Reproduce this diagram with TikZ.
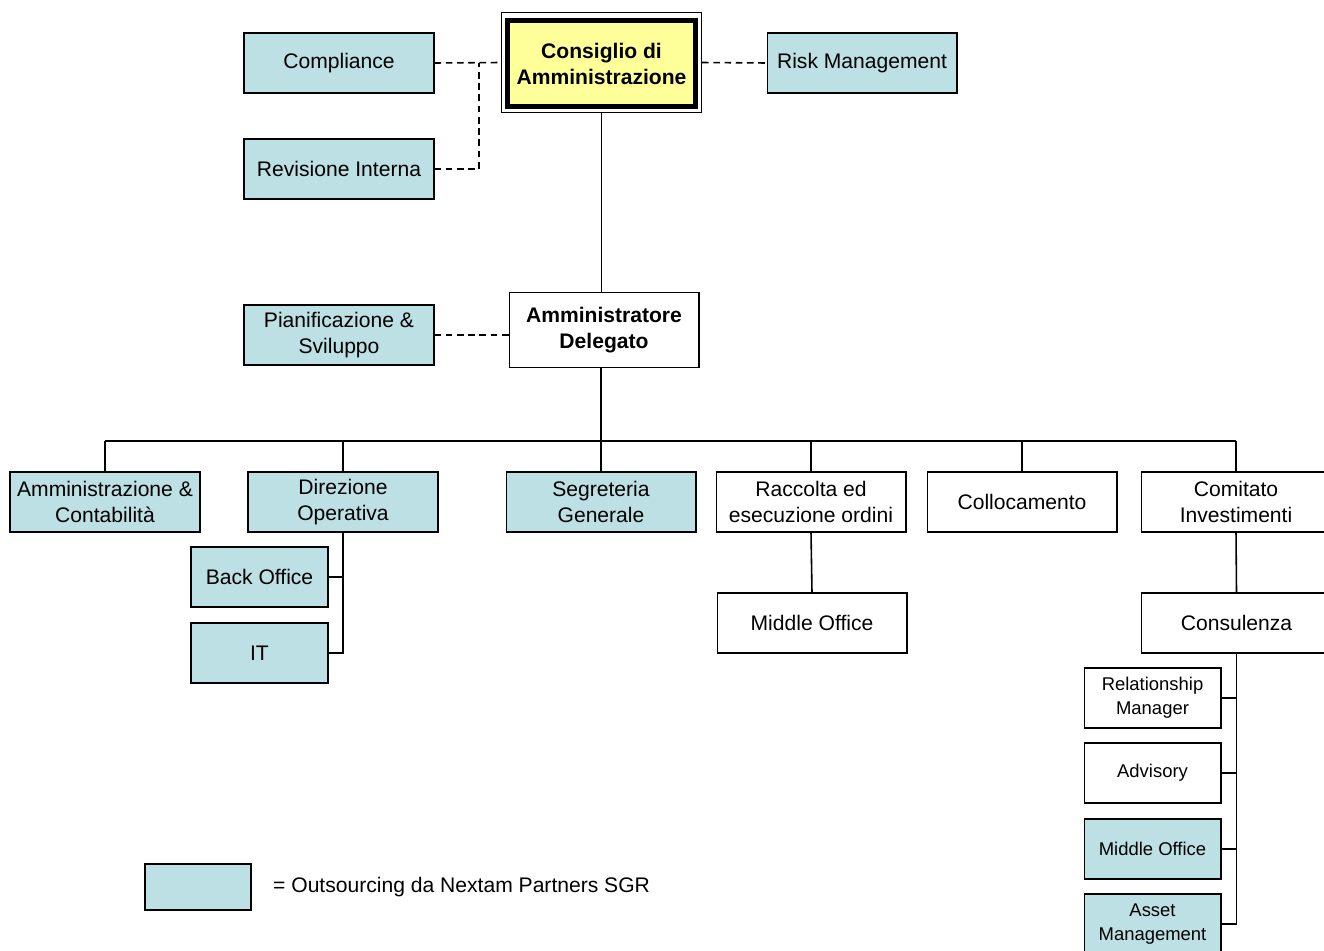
\documentclass[tikz,border=0pt]{standalone}
\usepackage{fontspec}
\setmainfont{Liberation Sans}
\usetikzlibrary{positioning}

\definecolor{outsrc}{RGB}{189,224,228}
\definecolor{boardyellow}{RGB}{255,255,153}

\tikzset{
  unit/.style={draw, line width=0.6pt, minimum width=3.8cm, minimum height=1.2cm,
    align=center, inner sep=1pt, font=\fontsize{12}{14.8}\selectfont},
  outunit/.style={unit, fill=outsrc},
  subunit/.style={unit, minimum width=2.74cm},
  smallunit/.style={subunit, font=\fontsize{10.5}{13.7}\selectfont},
  link/.style={line width=0.9pt},
  staff/.style={line width=0.9pt, dash pattern=on 3.8pt off 2.6pt},
}

\begin{document}
\begin{tikzpicture}[x=0.02cm, y=-0.02cm]
    \useasboundingbox (0,0) rectangle (1324,950);

    % board and staff functions
    \node[draw, line width=0.6pt, minimum width=4cm, minimum height=2cm] (cdaframe) at (601.5,62.5) {};
    \node[unit, line width=2.8pt, fill=boardyellow, minimum width=3.76cm, minimum height=1.72cm,
      font=\fontsize{12}{14.8}\selectfont\bfseries] (cda) at (601.5,63.5) {Consiglio di\\Amministrazione};
    \node[outunit] (compliance) at (339,63) {Compliance};
    \node[outunit] (revisione) at (339,169) {Revisione Interna};
    \node[outunit] (risk) at (862,63) {Risk Management};

    % managing director
    \node[unit, minimum height=1.5cm, font=\fontsize{12}{14.8}\selectfont\bfseries] (ad) at (604,330) {Amministratore\\Delegato};
    \node[outunit] (pianif) at (339,335) {Pianificazione \&\\Sviluppo};

    % first level
    \node[outunit] (amm) at (105,502) {Amministrazione \&\\Contabilità};
    \node[outunit] (dirop) at (343,502) {Direzione\\Operativa};
    \node[outunit] (segr) at (601,502) {Segreteria\\Generale};
    \node[unit] (raccolta) at (811,502) {Raccolta ed\\esecuzione ordini};
    \node[unit] (colloc) at (1022,502) {Collocamento};
    \node[unit] (comitato) at (1236,502) {Comitato\\Investimenti};

    % second level
    \node[outunit, minimum width=2.74cm] (backoff) at (259.5,577) {Back Office};
    \node[outunit, minimum width=2.74cm] (itbox) at (259.5,653) {IT};
    \node[unit] (midoff) at (812,623) {Middle Office};
    \node[unit] (consul) at (1236.5,623) {Consulenza};

    % under Consulenza
    \node[smallunit] (relman) at (1152.5,698) {Relationship\\Manager};
    \node[smallunit] (advisory) at (1152.5,773) {Advisory};
    \node[smallunit, fill=outsrc] (midoff2) at (1152.5,849) {Middle Office};
    \node[smallunit, fill=outsrc] (assetm) at (1152.5,924) {Asset\\Management};

    % dashed staff links
    \coordinate (staffjoin) at (479,63);
    \draw[staff] (compliance.east) -- (cdaframe.west);
    \draw[staff] (revisione.east) -| (staffjoin);
    \draw[staff] (cdaframe.east) -- (risk.west);
    \draw[staff] (pianif.east) -- (pianif.east -| ad.west);

    % solid lines
    \draw[link] (cdaframe.south) -- (cdaframe.south |- ad.north);
    \coordinate (bus) at (600,441);
    \draw[link] (ad.south -| segr.north) -- (segr.north);
    \draw[link] (amm.north |- bus) -- (comitato.north |- bus);
    \foreach \n in {amm,dirop,raccolta,colloc,comitato}
    \draw[link] (\n.north |- bus) -- (\n.north);

    \draw[link] (dirop.south) |- (itbox.east);
    \draw[link] (backoff.east) -- (backoff.east -| dirop.south);
    \draw[link] (raccolta.south) -- (midoff.north);
    \draw[link] (comitato.south) -- (consul.north);
    \draw[link] (consul.south) |- (assetm.east);
    \foreach \n in {relman,advisory,midoff2}
    \draw[link] (\n.east) -- (\n.east -| consul.south);

    % legend
    \node[outunit, line width=1pt, minimum width=2.12cm, minimum height=0.92cm] (legend) at (198,887) {};
    \node[right=0.42cm of legend, inner sep=0pt, font=\fontsize{12}{14.8}\selectfont] (legendtext) {= Outsourcing da Nextam Partners SGR};

\end{tikzpicture}
\end{document}
